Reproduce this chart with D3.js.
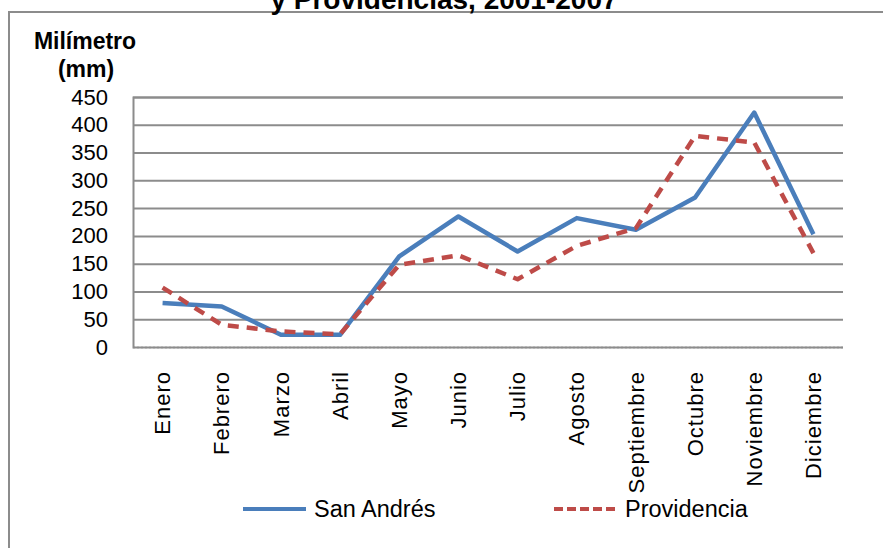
<!DOCTYPE html>
<html>
<head>
<meta charset="utf-8">
<script src="https://cdn.jsdelivr.net/npm/d3@7"></script>
<style>
    body { margin: 0; background: #fff; }
    svg { display: block; font-family: "Liberation Sans", Arial, sans-serif; }
</style>
</head>
<body>
<div id="chart"></div>
<script>
const months = ['Enero', 'Febrero', 'Marzo', 'Abril', 'Mayo', 'Junio', 'Julio',
    'Agosto', 'Septiembre', 'Octubre', 'Noviembre', 'Diciembre'];
const sanAndres = [79, 73, 22, 22, 163, 235, 172, 232, 211, 269, 422, 203];
const providencia = [107, 40, 28, 23, 148, 165, 122, 182, 214, 380, 368, 169];
const yTicks = [0, 50, 100, 150, 200, 250, 300, 350, 400, 450];
const seriesNames = ['San Andrés', 'Providencia'];

const width = 883, height = 548;
const margin = { top: 97, right: 40, bottom: 201, left: 133 };

const svg = d3.select('#chart').append('svg')
    .attr('width', width)
    .attr('height', height);

// outer chart frame (top and left edges visible)
svg.append('path')
    .attr('d', `M9,${height} V12 H${width}`)
    .attr('fill', 'none')
    .attr('stroke', '#8c8c8c')
    .attr('stroke-width', 2);

// title (first line falls outside the picture)
svg.append('text')
    .attr('x', 444)
    .attr('y', 9)
    .attr('text-anchor', 'middle')
    .attr('font-weight', 'bold')
    .attr('font-size', 28)
    .text('y Providencias, 2001-2007');

const xScale = d3.scaleBand()
    .domain(months)
    .range([margin.left, width - margin.right]);

const yScale = d3.scaleLinear()
    .domain([0, 450])
    .range([height - margin.bottom, margin.top]);

const cx = m => xScale(m) + xScale.bandwidth() / 2;

// y axis with gridlines
const yAxis = d3.axisLeft(yScale)
    .tickValues(yTicks)
    .tickSize(-(width - margin.right - margin.left))
    .tickPadding(25);

const gy = svg.append('g')
    .attr('transform', `translate(${margin.left},0)`)
    .call(yAxis);
gy.select('.domain').attr('stroke', '#8c8c8c').attr('stroke-width', 2);
gy.selectAll('.tick line')
    .attr('stroke', '#8c8c8c')
    .attr('stroke-width', 2)
    .attr('stroke-dasharray', d => d === 0 ? '2,2' : null)
    .attr('stroke-width', d => d === 0 ? 1.5 : 2);
gy.selectAll('.tick text')
    .attr('font-size', 22)
    .attr('fill', '#000')
    .attr('x', -25);

// y axis title
const yTitle = svg.append('text')
    .attr('text-anchor', 'middle')
    .attr('font-weight', 'bold')
    .attr('font-size', 23);
yTitle.append('tspan').attr('x', 85).attr('y', 49).text('Milímetro');
yTitle.append('tspan').attr('x', 86).attr('y', 77).text('(mm)');

// x labels, rotated
const xAxis = d3.axisBottom(xScale).tickSize(0);
const gx = svg.append('g')
    .attr('transform', `translate(0,${height - margin.bottom})`)
    .call(xAxis);
gx.select('.domain').remove();
gx.selectAll('.tick text')
    .attr('font-size', 22)
    .attr('letter-spacing', 1)
    .attr('fill', '#000')
    .attr('text-anchor', 'end')
    .attr('transform', 'rotate(-90)')
    .attr('x', -24)
    .attr('y', 0)
    .attr('dy', '0.35em');

const line = d3.line()
    .x((d, i) => cx(months[i]))
    .y(d => yScale(d));

svg.append('path')
    .attr('d', line(sanAndres))
    .attr('fill', 'none')
    .attr('stroke', '#4a7ebb')
    .attr('stroke-width', 4.5)
    .attr('stroke-linejoin', 'round');

svg.append('path')
    .attr('d', line(providencia))
    .attr('fill', 'none')
    .attr('stroke', '#be4b48')
    .attr('stroke-width', 4.5)
    .attr('stroke-dasharray', '11,8')
    .attr('stroke-linejoin', 'round');

// legend
const legend = svg.append('g').attr('font-size', 23.5);
const legendItems = [
    { name: seriesNames[0], x: 243, color: '#4a7ebb', dash: null },
    { name: seriesNames[1], x: 554, color: '#be4b48', dash: '9,4' }
];
legendItems.forEach(it => {
    legend.append('line')
        .attr('x1', it.x).attr('x2', it.x + 63)
        .attr('y1', 509).attr('y2', 509)
        .attr('stroke', it.color)
        .attr('stroke-width', 4)
        .attr('stroke-dasharray', it.dash);
    legend.append('text')
        .attr('x', it.x + 71)
        .attr('y', 517)
        .text(it.name);
});
</script>
</body>
</html>
